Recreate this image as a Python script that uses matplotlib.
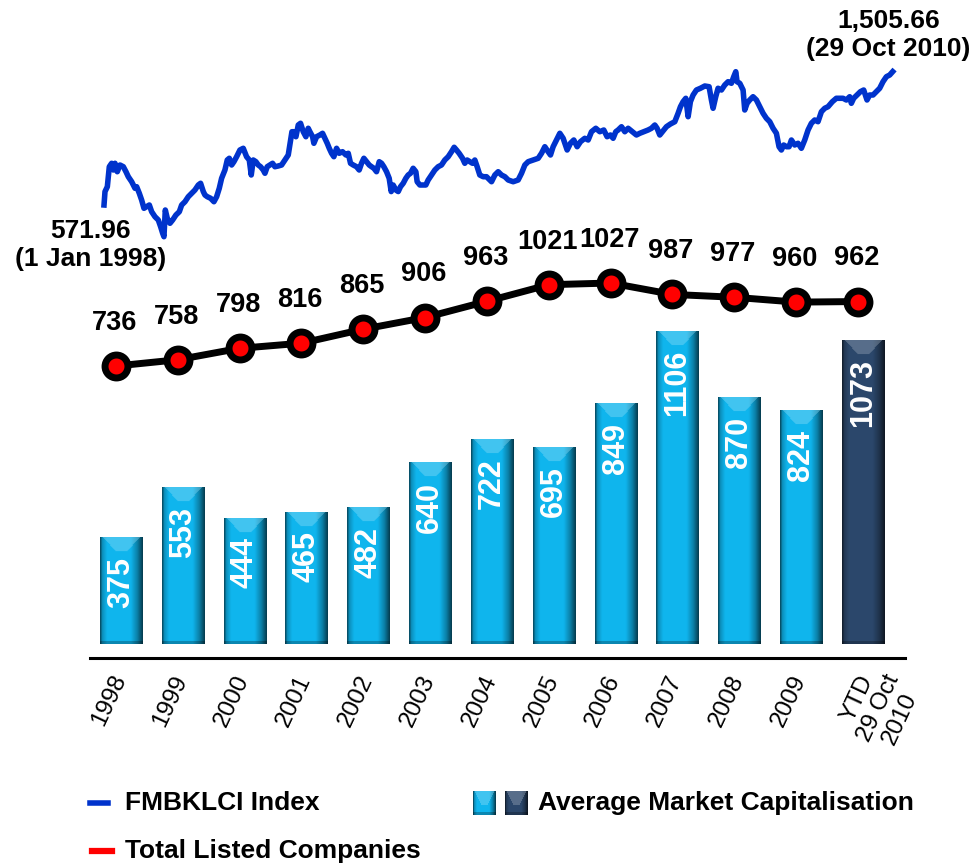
import numpy as np
import matplotlib.pyplot as plt
from matplotlib.lines import Line2D
from matplotlib.transforms import ScaledTranslation

plt.rcParams['font.family'] = ['Liberation Sans', 'DejaVu Sans']

# ---- data ----
years = ['1998', '1999', '2000', '2001', '2002', '2003', '2004', '2005',
         '2006', '2007', '2008', '2009', 'YTD\n29 Oct\n2010']
mkt_cap = [375, 553, 444, 465, 482, 640, 722, 695, 849, 1106, 870, 824, 1073]
listed = [736, 758, 798, 816, 865, 906, 963, 1021, 1027, 987, 977, 960, 962]

# FBMKLCI, traced (fractional year, index level)
klci_t = [1998.000, 1998.016, 1998.054, 1998.086, 1998.124, 1998.151, 1998.179, 1998.216,
          1998.260, 1998.314, 1998.357, 1998.395, 1998.450, 1998.504, 1998.531, 1998.574,
          1998.612, 1998.650, 1998.693, 1998.737, 1998.775, 1998.829, 1998.883, 1998.921,
          1998.954, 1998.975, 1998.997, 1999.029, 1999.073, 1999.116, 1999.170, 1999.225,
          1999.263, 1999.317, 1999.371, 1999.425, 1999.479, 1999.534, 1999.571, 1999.615,
          1999.642, 1999.680, 1999.734, 1999.788, 1999.832, 1999.875, 1999.913, 1999.967,
          2000.005, 2000.038, 2000.076, 2000.113, 2000.157, 2000.211, 2000.265, 2000.319,
          2000.363, 2000.395, 2000.428, 2000.471, 2000.509, 2000.547, 2000.590, 2000.618,
          2000.655, 2000.699, 2000.742, 2000.780, 2000.834, 2000.889, 2000.943, 2000.997,
          2001.035, 2001.057, 2001.089, 2001.122, 2001.160, 2001.197, 2001.241, 2001.284,
          2001.322, 2001.349, 2001.393, 2001.414, 2001.458, 2001.512, 2001.555, 2001.593,
          2001.631, 2001.664, 2001.702, 2001.739, 2001.783, 2001.826, 2001.880, 2001.935,
          2001.973, 2002.010, 2002.054, 2002.108, 2002.151, 2002.189, 2002.227, 2002.271,
          2002.314, 2002.352, 2002.390, 2002.433, 2002.477, 2002.515, 2002.552, 2002.596,
          2002.639, 2002.672, 2002.704, 2002.748, 2002.786, 2002.823, 2002.867, 2002.910,
          2002.948, 2002.986, 2003.029, 2003.073, 2003.094, 2003.138, 2003.192, 2003.235,
          2003.273, 2003.328, 2003.382, 2003.436, 2003.490, 2003.544, 2003.599, 2003.653,
          2003.696, 2003.734, 2003.777, 2003.832, 2003.869, 2003.907, 2003.951, 2003.994,
          2004.032, 2004.070, 2004.113, 2004.168, 2004.222, 2004.304, 2004.358, 2004.412,
          2004.466, 2004.521, 2004.575, 2004.656, 2004.737, 2004.792, 2004.846, 2004.900,
          2004.981, 2005.063, 2005.117, 2005.171, 2005.225, 2005.263, 2005.306, 2005.361,
          2005.415, 2005.469, 2005.534, 2005.588, 2005.642, 2005.697, 2005.751, 2005.821,
          2005.876, 2005.930, 2006.000, 2006.065, 2006.130, 2006.184, 2006.239, 2006.282,
          2006.325, 2006.363, 2006.418, 2006.472, 2006.526, 2006.596, 2006.661, 2006.716,
          2006.781, 2006.851, 2006.905, 2006.960, 2006.997, 2007.041, 2007.084, 2007.149,
          2007.214, 2007.285, 2007.339, 2007.377, 2007.420, 2007.464, 2007.502, 2007.539,
          2007.583, 2007.637, 2007.702, 2007.773, 2007.843, 2007.881, 2007.908, 2007.951,
          2007.989, 2008.044, 2008.098, 2008.152, 2008.206, 2008.244, 2008.277, 2008.298,
          2008.342, 2008.396, 2008.423, 2008.461, 2008.504, 2008.558, 2008.613, 2008.667,
          2008.721, 2008.775, 2008.830, 2008.884, 2008.938, 2008.981, 2009.019, 2009.057,
          2009.100, 2009.144, 2009.182, 2009.236, 2009.290, 2009.344, 2009.399, 2009.453,
          2009.507, 2009.561, 2009.615, 2009.670, 2009.724, 2009.778, 2009.848, 2009.913,
          2009.967, 2010.022, 2010.076, 2010.130, 2010.157, 2010.195, 2010.249, 2010.304,
          2010.358, 2010.412, 2010.455, 2010.510, 2010.564, 2010.618, 2010.672, 2010.727,
          2010.781, 2010.830]
klci_v = [572, 666, 700, 840, 864, 817, 864, 805, 852, 840, 805, 770, 735, 689, 700, 654,
          607, 549, 560, 572, 525, 490, 467, 420, 374, 350, 537, 479, 444, 467, 502, 525,
          572, 595, 630, 654, 677, 712, 724, 666, 642, 630, 619, 595, 630, 689, 759, 817,
          887, 899, 852, 875, 910, 957, 969, 910, 887, 782, 887, 875, 852, 840, 817, 794,
          840, 852, 864, 840, 845, 852, 887, 922, 1027, 1085, 1085, 1050, 1132, 1144, 1085, 1050,
          1109, 1085, 1050, 1004, 1050, 1062, 1074, 1039, 1004, 969, 934, 910, 969, 934, 945, 922,
          934, 864, 852, 840, 817, 864, 899, 875, 852, 840, 829, 805, 875, 864, 840, 805,
          759, 666, 712, 677, 666, 700, 724, 759, 782, 794, 829, 805, 735, 712, 712, 712,
          747, 782, 817, 840, 852, 887, 910, 945, 976, 957, 934, 899, 864, 887, 875, 864,
          887, 840, 782, 770, 770, 735, 782, 805, 782, 770, 747, 735, 747, 794, 852, 875,
          887, 899, 934, 980, 945, 922, 980, 1027, 1074, 1039, 957, 1004, 1027, 980, 1015, 1039,
          1027, 1085, 1109, 1085, 1097, 1050, 1062, 1039, 1085, 1097, 1120, 1085, 1109, 1085, 1062, 1074,
          1085, 1097, 1109, 1132, 1109, 1062, 1085, 1120, 1139, 1155, 1214, 1260, 1295, 1319, 1190, 1295,
          1342, 1377, 1389, 1405, 1400, 1307, 1249, 1330, 1389, 1377, 1412, 1435, 1424, 1470, 1505, 1435,
          1424, 1377, 1237, 1284, 1307, 1330, 1307, 1260, 1214, 1179, 1155, 1109, 1074, 980, 957, 992,
          980, 980, 1027, 992, 1004, 969, 1027, 1097, 1144, 1167, 1155, 1225, 1249, 1260, 1295, 1319,
          1319, 1319, 1307, 1330, 1284, 1319, 1342, 1365, 1377, 1307, 1342, 1342, 1365, 1389, 1435, 1470,
          1482, 1505.66]

LIGHT = np.array([0.06, 0.71, 0.93])
DARK = np.array([0.17, 0.28, 0.42])


def bar_img(base, ny, nx=42):
    # glossy bevelled bar look
    t = np.linspace(0, 1, nx)
    prof = np.interp(t, [0, 0.05, 0.16, 0.72, 0.88, 1.0], [0.45, 0.8, 1.0, 1.0, 0.7, 0.35])
    img = np.ones((ny, 1, 1)) * base[None, None, :] * prof[None, :, None]
    hi = base * 0.45 + np.array([0.55, 0.55, 0.55])
    bev = 14
    for r in range(min(bev, ny)):
        a = 0.06 + 0.32 * r / bev
        cols = (t > a) & (t < 1 - a)
        img[r, cols] = img[r, cols] * 0.62 + hi * 0.38
    img[-3:] *= 0.75
    return np.clip(img, 0, 1)


W, H = 973, 865
fig = plt.figure(figsize=(W / 100, H / 100), dpi=100)
pos = [90 / W, (H - 658) / H, 815 / W, 658 / H]

ax = fig.add_axes(pos)
ax.set_xlim(-0.501, 12.68)
ax.set_ylim(-49.5, 2275.6)
x = np.arange(len(mkt_cap))
bw = 0.68
for i, v in enumerate(mkt_cap):
    base = DARK if i == len(mkt_cap) - 1 else LIGHT
    ny = int(ax.transData.transform((0, v))[1] - ax.transData.transform((0, 0))[1])
    ax.imshow(bar_img(base, ny), extent=(i - bw / 2, i + bw / 2, 0, v), aspect='auto',
              interpolation='bilinear', zorder=2)
    ax.annotate(str(v), (i, v), xytext=(0, -13.7), textcoords='offset points', rotation=90,
                ha='center', va='top', color='white', fontsize=22, weight='bold', zorder=5)
ax.set_xlim(-0.501, 12.68)
ax.set_ylim(-49.5, 2275.6)
for s in ['top', 'left', 'right']:
    ax.spines[s].set_visible(False)
ax.spines['bottom'].set_linewidth(2.2)
ax.set_xticks([])
ax.set_yticks([])
ax.patch.set_alpha(0)

for i, lab in enumerate(years):
    dx = 22 if '\n' in lab else -0.7
    ax.annotate(lab, (i, 0), xycoords=('data', 'axes fraction'), xytext=(dx, -13),
                textcoords='offset points', rotation=65, rotation_mode='anchor',
                ha='right', va='center', multialignment='center', fontsize=17.5,
                linespacing=1.1)

# total listed companies (drawn a few pixels left of the bar centres)
ax2 = ax.twinx()
ax2.set_ylim(-287.8, 2019.3)
shift = ax2.transData + ScaledTranslation(-0.05, 0, fig.dpi_scale_trans)
ax2.plot(x, listed, color='black', lw=5, marker='o', ms=16.5, mfc='#ff0000',
         mec='black', mew=5, zorder=4, transform=shift)
for i, v in enumerate(listed):
    ax2.annotate(str(v), (i, v), xycoords=shift, xytext=(-1, 31), textcoords='offset points',
                 ha='center', va='center', fontsize=19.5, weight='bold')
ax2.axis('off')

# index line
ax3 = fig.add_axes(pos, frameon=False)
ax3.plot(klci_t, klci_v, color='#0033cc', lw=4, solid_joinstyle='round')
ax3.set_xlim(1997.772, 2011.03)
ax3.set_ylim(-2599, 2007)
ax3.axis('off')
ax3.annotate('571.96\n(1 Jan 1998)', (klci_t[0], klci_v[0]), xytext=(-10, -29),
             textcoords='offset points', ha='center', va='center', fontsize=19,
             weight='bold', annotation_clip=False)
ax3.annotate('1,505.66\n(29 Oct 2010)', (klci_t[-1], klci_v[-1]), xytext=(-3, 26.5),
             textcoords='offset points', ha='center', va='center', fontsize=19,
             weight='bold', annotation_clip=False)

# legend
fig.add_artist(Line2D([90 / W, 108 / W], [1 - 803 / H] * 2, color='#0033cc', lw=4))
fig.add_artist(Line2D([92 / W, 112 / W], [1 - 851 / H] * 2, color='#ff0000', lw=4.5))
fig.text(125 / W, 1 - 803 / H, 'FMBKLCI Index', va='center', fontsize=19, weight='bold')
fig.text(125 / W, 1 - 851 / H, 'Total Listed Companies', va='center', fontsize=19,
         weight='bold')
fig.text(538 / W, 1 - 803 / H, 'Average Market Capitalisation', va='center', fontsize=19,
         weight='bold')
for k, base in enumerate([LIGHT, DARK]):
    lx = fig.add_axes([(473 + 32 * k) / W, 1 - 815 / H, 23 / W, 24 / H])
    lx.imshow(bar_img(base, 24, 23), aspect='auto', interpolation='bilinear')
    lx.axis('off')

fig.savefig('out.png', dpi=100)
